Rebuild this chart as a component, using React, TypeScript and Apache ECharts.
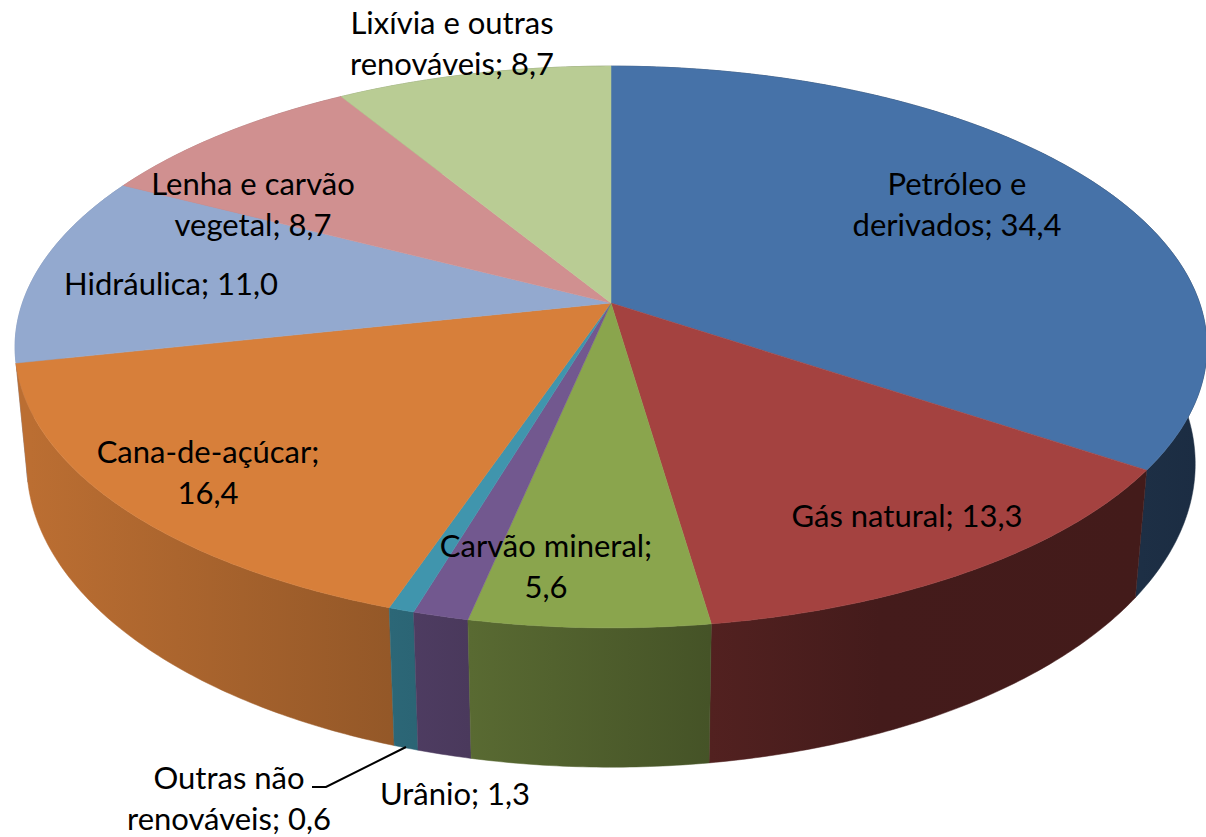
import React, { useEffect, useRef } from "react";
import * as echarts from "echarts";

const names = ["Petróleo e derivados", "Gás natural", "Carvão mineral", "Urânio", "Outras não renováveis", "Cana-de-açúcar", "Hidráulica", "Lenha e carvão vegetal", "Lixívia e outras renováveis"];
const values = [34.4, 13.3, 5.6, 1.3, 0.6, 16.4, 11.0, 8.7, 8.7];
const dataLabels = [
  "Petróleo e\nderivados; 34,4",
  "Gás natural; 13,3",
  "Carvão mineral;\n5,6",
  "Urânio; 1,3",
  "Outras não\nrenováveis; 0,6",
  "Cana-de-açúcar;\n16,4",
  "Hidráulica; 11,0",
  "Lenha e carvão\nvegetal; 8,7",
  "Lixívia e outras\nrenováveis; 8,7",
];
const topColors = ["#4672A8", "#A44240", "#8AA54D", "#72588F", "#4095AD", "#D77F3A", "#93A9CF", "#D09090", "#B9CC94"];
// label centres in page pixels
const labelCentres = [[957, 203], [907, 515], [546, 565], [455, 793], [229, 797], [208, 471], [171, 283], [253, 203], [452, 42]];

// projection of the tilted disc
const CX = 611, CY = 303, A = 588.6, B = 274, K = 0.1566, D = 1.0196, H = 116.6, B2 = 284;
const topPt = (t: number) => {
  const u = Math.sin(t), v = Math.cos(t) * -1, s = 1 / (1 - K * v);
  return [CX + A * u * s, CY + B * v * s];
};
const botPt = (t: number) => {
  const u = Math.sin(t), v = Math.cos(t) * -1, s = 1 / (D - K * v);
  return [CX + A * u * s, CY + (H + B2 * v) * s];
};
const arc = (fn: (t: number) => number[], a0: number, a1: number) => {
  const n = Math.max(2, Math.ceil((a1 - a0) / 0.01));
  const out: number[][] = [];
  for (let i = 0; i <= n; i++) out.push(fn(a0 + ((a1 - a0) * i) / n));
  return out;
};
const shadeStops: [number, number][] = [[30, 0.87], [390, 0.69], [470, 0.645], [710, 0.5], [880, 0.415], [1140, 0.41], [1206, 0.39]];
const shade = (hex: string, f: number) => {
  const n = parseInt(hex.slice(1), 16);
  const c = [(n >> 16) & 255, (n >> 8) & 255, n & 255].map((x) => Math.round(x * f));
  return `rgb(${c[0]},${c[1]},${c[2]})`;
};
const sideFill = (hex: string) => ({
  type: "linear", global: true, x: 30, y: 0, x2: 1206, y2: 0,
  colorStops: shadeStops.map(([x, f]) => ({ offset: (x - 30) / 1176, color: shade(hex, f) })),
});

const total = values.reduce((a, b) => a + b, 0);
const starts = values.map((_, i) => (values.slice(0, i).reduce((a, b) => a + b, 0) / total) * Math.PI * 2);

export default function App() {
  const ref = useRef<HTMLDivElement>(null);
  useEffect(() => {
    const chart = echarts.init(ref.current!, null, { renderer: "svg" });
    const order = values.map((_, i) => i);
    const midV = (i: number) => -Math.cos(starts[i] + (values[i] / total) * Math.PI);
    const sideOrder = [...order].sort((a, b) => midV(a) - midV(b));
    const mk = (series: string, renderItem: any, data: any[], z: number) => ({
      type: "custom", name: series, coordinateSystem: "none", renderItem, data, z, silent: true, animation: false,
    });
    const angles = (api: any, idx: number) => {
      const a0 = starts[idx];
      return [a0, a0 + (api.value(1) / total) * Math.PI * 2];
    };
    chart.setOption({
      animation: false,
      backgroundColor: "#fff",
      series: [
        mk("sides", (p: any, api: any) => {
          const idx = api.value(0);
          const [a0, a1] = angles(api, idx);
          const t = arc(topPt, a0, a1), b = arc(botPt, a0, a1).reverse();
          const fill = sideFill(topColors[idx]);
          return {
            type: "polygon", shape: { points: [...t, ...b] },
            style: { fill, stroke: fill, lineWidth: 0.5 },
          };
        }, sideOrder.map((i) => ({ name: names[i], value: [i, values[i]] })), 1),
        mk("tops", (p: any, api: any) => {
          const idx = api.value(0);
          const [a0, a1] = angles(api, idx);
          const c = topColors[idx];
          return {
            type: "polygon", shape: { points: [[CX, CY], ...arc(topPt, a0, a1)] },
            style: { fill: c, stroke: c, lineWidth: 0.5 },
          };
        }, order.map((i) => ({ name: names[i], value: [i, values[i]] })), 2),
        mk("leader", () => ({
          type: "polyline", shape: { points: [[406, 747], [326, 787], [312, 787]] },
          style: { fill: "none", stroke: "#000", lineWidth: 2 },
        }), [0], 3),
        mk("labels", (p: any, api: any) => {
          const idx = api.value(0);
          return {
            type: "text", x: labelCentres[idx][0], y: labelCentres[idx][1],
            style: {
              text: dataLabels[idx], fill: "#000", fontFamily: "Lato", fontSize: 31, lineHeight: 41,
              align: "center", verticalAlign: "middle",
            },
          };
        }, order.map((i) => ({ value: [i] })), 4),
      ],
    });
    return () => chart.dispose();
  }, []);
  return <div ref={ref} style={{ position: "fixed", left: 0, top: 0, width: 1206, height: 837 }} />;
}
